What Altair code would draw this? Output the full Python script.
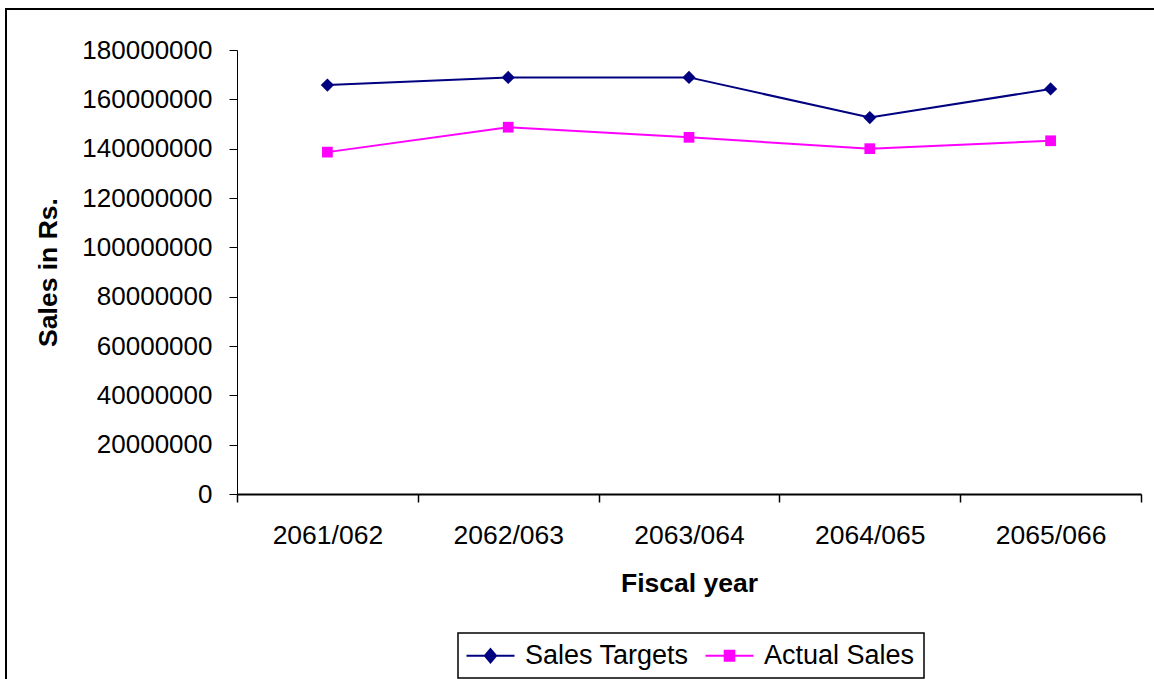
import altair as alt
import pandas as pd

# Fiscal years and sales figures (Rs.)
fiscal_years = ["2061/062", "2062/063", "2063/064", "2064/065", "2065/066"]
sales_targets = [165800000, 168900000, 168900000, 152600000, 164200000]
actual_sales = [138600000, 148700000, 144600000, 140000000, 143200000]

series_names = ["Sales Targets", "Actual Sales"]
series_colors = ["#000080", "#FF00FF"]
series_markers = ["diamond", "square"]
y_tick_values = [0, 20000000, 40000000, 60000000, 80000000,
                 100000000, 120000000, 140000000, 160000000, 180000000]

rows = []
for yr, tgt, act in zip(fiscal_years, sales_targets, actual_sales):
    rows.append({"year": yr, "series": "Sales Targets", "value": tgt})
    rows.append({"year": yr, "series": "Actual Sales", "value": act})
df = pd.DataFrame(rows)

FONT = "Liberation Sans"
W, H = 904, 444
LEFT, TOP = 237, 50

# legend glyphs: a short line with the series marker in its middle
# (drawn wider than the symbol size so the entry stays compact)
legend_glyphs = [
    "M-2,0L2,0M0,-0.55L0.47,0L0,0.55L-0.47,0Z",
    "M-2,0L2,0M-0.4,-0.42L0.4,-0.42L0.4,0.42L-0.4,0.42Z",
]

x_enc = alt.X(
    "year:O",
    sort=fiscal_years,
    scale=alt.Scale(type="band", paddingInner=0, paddingOuter=0),
    axis=alt.Axis(
        title="Fiscal year", labelAngle=0, tickBand="extent", tickSize=8,
        labelPadding=20, labelFontSize=26.5, labelFont=FONT, labelColor="black",
        domainColor="black", domainWidth=2, tickColor="black", tickWidth=1.5,
        titleFont=FONT, titleFontSize=26.5, titleFontWeight="bold", titleColor="black",
        titleY=89, titleBaseline="middle", grid=False,
    ),
)
y_enc = alt.Y(
    "value:Q",
    scale=alt.Scale(domain=[0, 180000000], nice=False),
    axis=alt.Axis(
        title="Sales in Rs.", values=y_tick_values, format="d", tickSize=8,
        labelPadding=17, labelFontSize=26, labelFont=FONT, labelColor="black",
        domainColor="black", domainWidth=1, tickColor="black", tickWidth=1,
        titleFont=FONT, titleFontSize=26.5, titleFontWeight="bold", titleColor="black",
        titleX=48 - LEFT, titleY=272 - TOP, titleAngle=270,
        titleAlign="center", titleBaseline="middle", grid=False,
    ),
)

series_scale = alt.Scale(domain=series_names, range=series_colors)
legend_opts = alt.Legend(
    title=None, orient="none", legendX=458 - LEFT, legendY=633 - TOP,
    direction="horizontal", labelFont=FONT, labelFontSize=27, labelColor="black",
    symbolSize=576, symbolStrokeWidth=2, symbolOffset=10, labelOffset=21,
    columnPadding=12, padding=9, strokeColor="black", labelLimit=300,
)

base = alt.Chart(df).encode(x=x_enc, y=y_enc)

# series lines, coloured through the shared stroke scale
lines = base.mark_line(strokeWidth=2).encode(
    stroke=alt.Stroke("series:N", scale=series_scale, legend=legend_opts)
)

# per-series markers
marker_layers = []
for name, marker, col, sz in zip(series_names, series_markers, series_colors, [175, 115]):
    marker_layers.append(
        base.transform_filter(alt.datum.series == name)
        .mark_point(filled=True, shape=marker, size=sz, opacity=1, color=col)
    )

# carries the legend glyphs (line + marker); its own marks have zero size
legend_layer = base.mark_point(filled=True, opacity=1, strokeWidth=2, size=0).encode(
    fill=alt.Fill("series:N", scale=series_scale, legend=legend_opts),
    stroke=alt.Stroke("series:N", scale=series_scale, legend=legend_opts),
    shape=alt.Shape("series:N", scale=alt.Scale(domain=series_names, range=legend_glyphs),
                    legend=legend_opts),
)

# outer frame around the whole chart
frame = alt.Chart(alt.Data(values=[{"f": 1}])).mark_rect(
    fillOpacity=0, stroke="black", strokeWidth=2
).encode(
    x=alt.value(6 - LEFT), x2=alt.value(1175 - LEFT),
    y=alt.value(9 - TOP), y2=alt.value(700 - TOP),
)

chart = (
    alt.layer(frame, lines, *marker_layers, legend_layer)
    .properties(
        width=W, height=H,
        autosize=alt.AutoSizeParams(type="none"),
        padding={"left": LEFT, "top": TOP, "right": 1154 - LEFT - W, "bottom": 679 - TOP - H},
        background="white",
    )
    .configure_view(strokeOpacity=0)
    .configure_legend(strokeWidth=1.5)
)

chart.save("out.html", embed_options={"renderer": "svg", "actions": False})
